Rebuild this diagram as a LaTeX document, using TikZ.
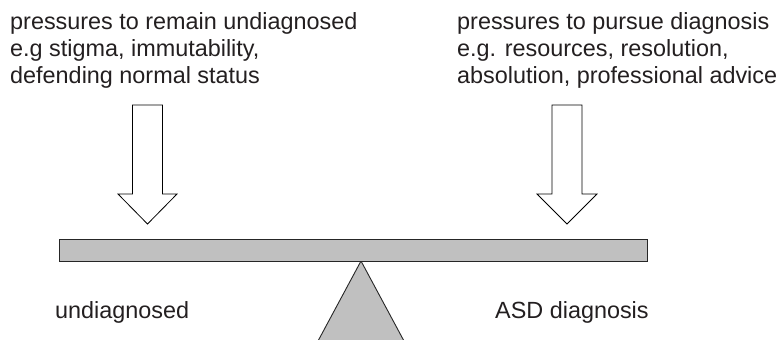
\documentclass[tikz,border=0pt]{standalone}
\usepackage{fontspec}
\setmainfont{Liberation Sans}
\definecolor{txt}{HTML}{231F20}
\definecolor{beam}{HTML}{C0C0C0}
\begin{document}
\begin{tikzpicture}[x=1pt,y=-1pt,
  lbl/.style={font=\fontsize{23.4}{27}\selectfont, text=txt, inner sep=0pt, align=left},
  hollow/.style={draw=black, fill=white, line width=0.8pt, line join=miter},
  solid/.style={draw=black!85, fill=beam, line width=0.9pt}]
\useasboundingbox (0,0) rectangle (777,340);
% texts
\node[lbl, anchor=north west] (lefttxt) at (10,12.5) {pressures to remain undiagnosed\\e.g stigma, immutability,\\defending normal status};
\node[lbl, anchor=north west] (righttxt) at (457,12.5) {pressures to pursue diagnosis\\e.g. resources, resolution,\\absolution, professional advice};
\node[lbl, anchor=base west] (undiag) at (55,318) {undiagnosed};
\node[lbl, anchor=base west] (asd) at (495,318) {ASD diagnosis};
% hollow arrows
\draw[hollow] (132.5,105) -- (162.5,105) -- (162.5,194) -- (177,194) -- (147.5,224) -- (118,194) -- (132.5,194) -- cycle;
\draw[hollow] (552,105) -- (582,105) -- (582,194) -- (597,194) -- (567,224) -- (537,194) -- (552,194) -- cycle;
% fulcrum
\fill[beam] (361,261) -- (318,341) -- (404,341) -- cycle;
\draw[draw=black!85, line width=0.9pt] (318,341) -- (361,261) -- (404,341);
% beam
\draw[solid] (59,239) rectangle (647,261);
\end{tikzpicture}
\end{document}
